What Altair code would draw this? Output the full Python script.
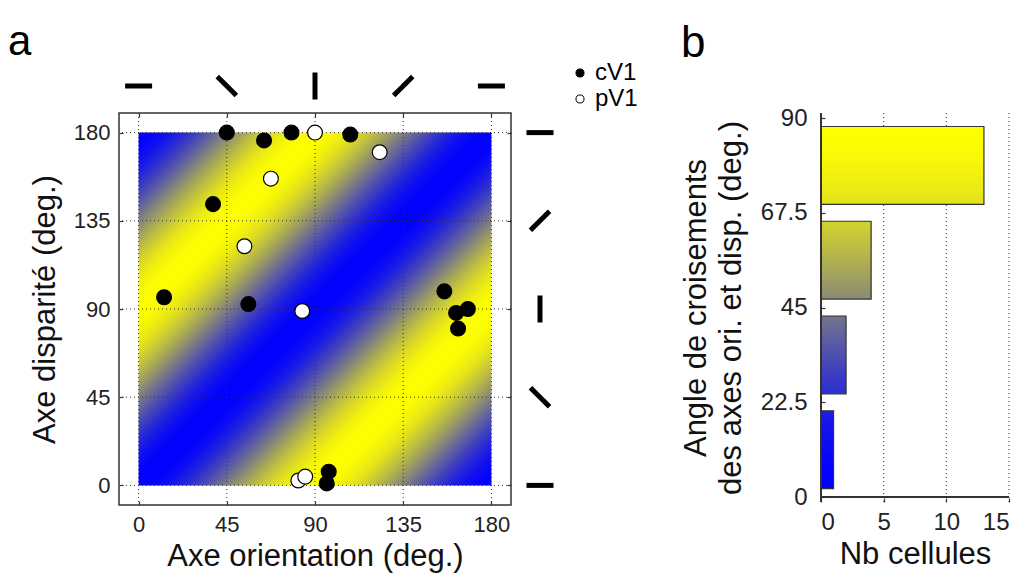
import altair as alt
import numpy as np
import pandas as pd

# ---------------- data ----------------
# panel a : preferred axes of the cells
cv1_ori = [45, 64, 78, 108, 38, 13, 56, 156, 162, 168, 163, 97, 96]
cv1_disp = [180, 176, 180, 179, 143.5, 96, 92.5, 99, 88, 90, 80, 7, 1]
pv1_ori = [90, 123, 67.5, 54, 83.5, 81.5, 85]
pv1_disp = [180, 170, 156.5, 122, 89, 2.5, 4.5]
legend_labels = ["cV1", "pV1"]
axis_ticks = [0, 45, 90, 135, 180]
glyph_angles = [0, 45, 90, 135, 180]
panel_letters = ["a", "b"]

# panel b : histogram of crossing angles
bin_width = 22.5
bar_centres = [11.25, 33.75, 56.25, 78.75]
bar_counts = [1, 2, 4, 13]
bar_ticks_y = [0, 22.5, 45, 67.5, 90]
bar_ticks_x = [0, 5, 10, 15]

# ---------------- colour map (blue -> yellow, sin^2 of crossing angle) ----------------
BLUE = (0, 0, 255)
YELLOW = (255, 255, 0)


def cmap(v):
    return "#%02x%02x%02x" % tuple(int(round(b + (y - b) * v)) for b, y in zip(BLUE, YELLOW))


def sin2(theta_deg):
    return float(np.sin(np.radians(theta_deg)) ** 2)


FONT = "Liberation Sans"
W_A, H_A = 392, 392
W_B, H_B = 188, 389

XS = alt.Scale(domain=[-10, 190], nice=False, zero=False)
YS = alt.Scale(domain=[-10, 190], nice=False, zero=False)

# heat map as one rect with a diagonal gradient: t = (x - y + 180) / 360
n_stops = 49
heat_stops = []
for k in range(n_stops):
    t = k / (n_stops - 1)
    delta = 360 * t - 180
    heat_stops.append({"offset": t, "color": cmap(sin2(delta))})
heat_fill = {"gradient": "linear", "x1": 0, "y1": 0, "x2": 1, "y2": 1, "stops": heat_stops}

heat_df = pd.DataFrame({"x0": [axis_ticks[0]], "x1": [axis_ticks[-1]],
                        "y0": [axis_ticks[0]], "y1": [axis_ticks[-1]]})
heat = alt.Chart(heat_df).mark_rect(fill=heat_fill, strokeWidth=0).encode(
    x=alt.X("x0:Q", scale=XS, axis=None), x2="x1",
    y=alt.Y("y0:Q", scale=YS, axis=None), y2="y1",
)

tick_df = pd.DataFrame({"v": axis_ticks})
grid_x = alt.Chart(tick_df).mark_rule(strokeDash=[1, 3], color="#333", strokeWidth=1).encode(
    x=alt.X("v:Q", scale=XS, axis=alt.Axis(orient="top", values=axis_ticks, labels=False, title=None,
                                           domain=False, grid=False, ticks=True, tickSize=4, offset=-4,
                                           tickColor="#333", tickWidth=1.2))
)
grid_y = alt.Chart(tick_df).mark_rule(strokeDash=[1, 3], color="#333", strokeWidth=1).encode(
    y=alt.Y("v:Q", scale=YS, axis=alt.Axis(orient="right", values=axis_ticks, labels=False, title=None,
                                           domain=False, grid=False, ticks=True, tickSize=4, offset=-4,
                                           tickColor="#333", tickWidth=1.2))
)

pts_df = pd.concat([
    pd.DataFrame({"ori": cv1_ori, "disp": cv1_disp, "type": legend_labels[0]}),
    pd.DataFrame({"ori": pv1_ori, "disp": pv1_disp, "type": legend_labels[1]}),
], ignore_index=True)

points = alt.Chart(pts_df).mark_point(filled=True, size=220, stroke="black", strokeWidth=1.2,
                                      opacity=1, shape="circle").encode(
    x=alt.X("ori:Q", scale=XS, axis=alt.Axis(orient="bottom", values=axis_ticks, format="d",
                                             title="Axe orientation (deg.)", domain=False, grid=False,
                                             ticks=True, tickSize=4, offset=-4, tickColor="#333",
                                             tickWidth=1.2, labelPadding=9, titlePadding=6,
                                             labelFontSize=22)),
    y=alt.Y("disp:Q", scale=YS, axis=alt.Axis(orient="left", values=axis_ticks, format="d",
                                              title="Axe disparité (deg.)", domain=False, grid=False,
                                              ticks=True, tickSize=4, offset=-4, tickColor="#333",
                                              tickWidth=1.2, labelPadding=9, titlePadding=12,
                                              labelFontSize=22)),
    fill=alt.Fill("type:N", scale=alt.Scale(domain=legend_labels, range=["black", "white"]),
                  legend=alt.Legend(title=None, orient="none", legendX=449, legendY=-52,
                                    labelFontSize=24, labelFont=FONT, labelColor="black",
                                    symbolSize=65, symbolStrokeColor="black", symbolStrokeWidth=1,
                                    symbolType="circle", labelOffset=3, rowPadding=2, padding=0)),
)

glyph_df = pd.DataFrame({"v": axis_ticks, "ang": glyph_angles})
glyph_top = alt.Chart(glyph_df).mark_point(shape="stroke", size=729, strokeWidth=5, color="black",
                                           filled=False, opacity=1, strokeCap="butt").encode(
    x=alt.X("v:Q", scale=XS, axis=None),
    y=alt.value(-27),
    angle=alt.Angle("ang:Q", scale=None),
)
glyph_right = alt.Chart(glyph_df).mark_point(shape="stroke", size=729, strokeWidth=5, color="black",
                                             filled=False, opacity=1, strokeCap="butt").encode(
    x=alt.value(W_A + 29),
    y=alt.Y("v:Q", scale=YS, axis=None),
    angle=alt.Angle("ang:Q", scale=None),
)

letter_a = alt.Chart(pd.DataFrame({"t": [panel_letters[0]]})).mark_text(
    fontSize=42, font=FONT, align="left", baseline="alphabetic", color="black"
).encode(text="t:N", x=alt.value(-111), y=alt.value(-58))

panel_a = alt.layer(heat, grid_x, grid_y, points, glyph_top, glyph_right, letter_a).resolve_axis(
    x="independent", y="independent"
).properties(
    width=W_A, height=H_A,
    view=alt.ViewBackground(stroke="#333", strokeWidth=1.5),
)

# ---------------- panel b ----------------
XB = alt.Scale(domain=[bar_ticks_x[0], bar_ticks_x[-1]], nice=False)
YB = alt.Scale(domain=[bar_ticks_y[0], bar_ticks_y[-1]], nice=False)
bar_px = 0.8 * bin_width * H_B / (bar_ticks_y[-1] - bar_ticks_y[0])

bar_df = pd.DataFrame({"i": list(range(len(bar_centres))), "c": bar_centres, "n": bar_counts})

grid_b = alt.Chart(pd.DataFrame({"v": bar_ticks_x[1:]})).mark_rule(
    strokeDash=[1, 3], color="#333", strokeWidth=1).encode(
    x=alt.X("v:Q", scale=XB, axis=None)
)

bar_layers = []
for i, c in enumerate(bar_centres):
    top = c + 0.4 * bin_width
    stops = []
    for k in range(7):
        s = k / 6
        theta = top - 0.8 * bin_width * s
        stops.append({"offset": s, "color": cmap(sin2(theta))})
    fill = {"gradient": "linear", "x1": 0, "y1": 0, "x2": 0, "y2": 1, "stops": stops}
    if i == 0:
        xax = alt.Axis(values=bar_ticks_x, format="d", title="Nb cellules", domain=False, grid=False,
                       ticks=True, tickSize=4, offset=-4, tickColor="#333", tickWidth=1.2,
                       labelPadding=8, titlePadding=5, labelFontSize=24)
        yax = alt.Axis(values=bar_ticks_y, labelExpr="'' + datum.value",
                       title=["Angle de croisements", "des axes ori. et disp. (deg.)"],
                       domain=False, grid=False, ticks=True, tickSize=4, offset=-4, tickColor="#333",
                       tickWidth=1.2, labelPadding=14, titlePadding=13, titleLineHeight=35,
                       labelFontSize=24)
    else:
        xax = None
        yax = None
    bar_layers.append(
        alt.Chart(bar_df).transform_filter(alt.datum.i == i).mark_bar(
            orient="horizontal", size=bar_px, fill=fill, stroke="#333", strokeWidth=1.2
        ).encode(
            x=alt.X("n:Q", scale=XB, axis=xax),
            y=alt.Y("c:Q", scale=YB, axis=yax),
        )
    )

axis_line_x = alt.Chart(bar_df).mark_rule(color="#333", strokeWidth=1.5).encode(
    x=alt.X(datum=bar_ticks_x[0], scale=XB, axis=None))
axis_line_y = alt.Chart(bar_df).mark_rule(color="#333", strokeWidth=1.5).encode(
    y=alt.Y(datum=bar_ticks_y[0], scale=YB, axis=None))

letter_b = alt.Chart(pd.DataFrame({"t": [panel_letters[1]]})).mark_text(
    fontSize=44, font=FONT, align="left", baseline="alphabetic", color="black"
).encode(text="t:N", x=alt.value(-140), y=alt.value(-56))

panel_b = alt.layer(grid_b, *bar_layers, axis_line_x, axis_line_y, letter_b).resolve_axis(
    x="independent", y="independent"
).properties(
    width=W_B, height=H_B,
)

chart = alt.hconcat(panel_a, panel_b, spacing=310, bounds="flush").resolve_scale(
    fill="independent"
).resolve_legend(fill="independent").properties(
    padding={"left": -1, "top": 12, "right": 5, "bottom": 5}
).configure_view(strokeWidth=0).configure_axis(
    labelFont=FONT, titleFont=FONT, labelFontSize=22, titleFontSize=31, labelColor="#222",
    titleColor="#111", titleFontWeight="normal"
)

chart.save("out.html", embed_options={"renderer": "svg", "actions": False})
